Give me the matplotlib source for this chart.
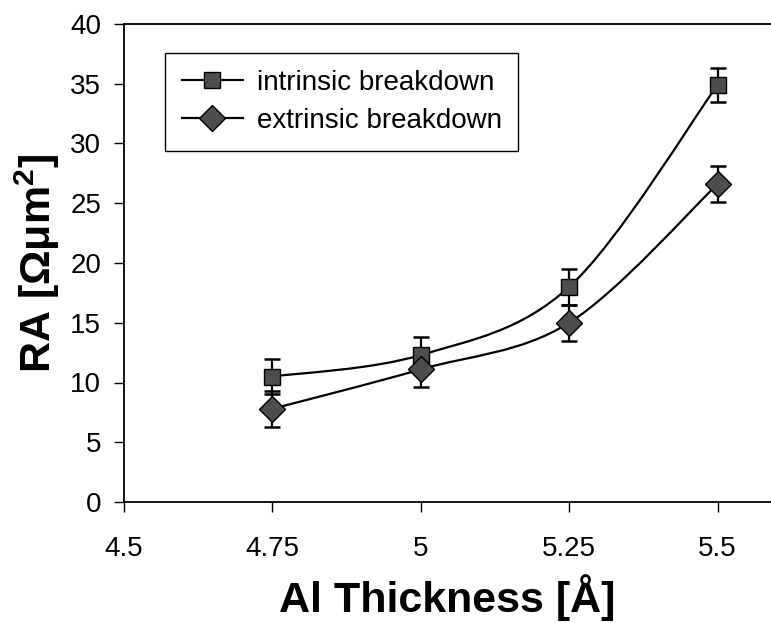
import matplotlib
matplotlib.use("Agg")
import matplotlib.pyplot as plt
from matplotlib.path import Path
from matplotlib.patches import PathPatch
from matplotlib.lines import Line2D

thickness = [4.75, 5.0, 5.25, 5.5]
intrinsic = [10.5, 12.3, 18.0, 34.9]
intrinsic_err = [1.5, 1.5, 1.5, 1.45]
extrinsic = [7.8, 11.1, 15.0, 26.6]
extrinsic_err = [1.5, 1.5, 1.5, 1.5]

plt.rcParams["font.family"] = ["Liberation Sans", "DejaVu Sans"]
plt.rcParams["mathtext.fontset"] = "custom"
plt.rcParams["mathtext.bf"] = "Liberation Sans:bold"
plt.rcParams["mathtext.rm"] = "Liberation Sans"


def smooth_path(xs, ys):
    # Catmull-Rom style bezier, like the spreadsheet "smoothed line"
    pts = list(zip(xs, ys))
    verts = [pts[0]]
    codes = [Path.MOVETO]
    n = len(pts)
    for i in range(n - 1):
        p0 = pts[i - 1] if i > 0 else pts[i]
        p1 = pts[i]
        p2 = pts[i + 1]
        p3 = pts[i + 2] if i + 2 < n else pts[i + 1]
        c1 = (p1[0] + (p2[0] - p0[0]) / 6, p1[1] + (p2[1] - p0[1]) / 6)
        c2 = (p2[0] - (p3[0] - p1[0]) / 6, p2[1] - (p3[1] - p1[1]) / 6)
        verts += [c1, c2, p2]
        codes += [Path.CURVE4] * 3
    return Path(verts, codes)


fig = plt.figure(figsize=(7.71, 6.23), dpi=100)
ax = fig.add_axes([124 / 771, 1 - 502 / 623, 1 - 124 / 771, (502 - 24) / 623])

styles = [("s", 11.5), ("D", 13)]
for (ys, err), (mk, ms) in zip([(intrinsic, intrinsic_err),
                                (extrinsic, extrinsic_err)], styles):
    ax.add_patch(PathPatch(smooth_path(thickness, ys), fill=False,
                           edgecolor="black", lw=1.6, zorder=2))
    ax.errorbar(thickness, ys, yerr=err, fmt="none", ecolor="black",
                elinewidth=1.6, capsize=5.5, capthick=1.8, zorder=3)
    ax.plot(thickness, ys, linestyle="none", marker=mk, markersize=ms,
            markerfacecolor="#4d4d4d", markeredgecolor="black",
            markeredgewidth=1.0, zorder=4)

ax.set_xlim(4.5, 5.59)
ax.set_ylim(0, 40)
ax.set_xticks([4.5, 4.75, 5.0, 5.25, 5.5])
ax.set_xticklabels(["4.5", "4.75", "5", "5.25", "5.5"])
ax.set_yticks(range(0, 41, 5))
ax.tick_params(axis="both", direction="out", length=7.5, width=1,
               labelsize=20)
ax.tick_params(axis="y", pad=9)
ax.tick_params(axis="x", pad=17)

for s in ax.spines.values():
    s.set_linewidth(1.3)
ax.spines["right"].set_visible(False)

ax.set_xlabel("Al Thickness [Å]", fontsize=31, fontweight="bold", labelpad=9)
ax.set_ylabel(r"RA [Ωμm$^\mathbf{2}$]", fontsize=31, fontweight="bold",
              labelpad=6)

handles = [
    Line2D([], [], color="black", lw=1.6, marker="s", markersize=11.5,
           markerfacecolor="#4d4d4d", markeredgecolor="black"),
    Line2D([], [], color="black", lw=1.6, marker="D", markersize=13,
           markerfacecolor="#4d4d4d", markeredgecolor="black"),
]
leg = ax.legend(handles, ["intrinsic breakdown", "extrinsic breakdown"],
                loc="upper left", bbox_to_anchor=(165 / 771, 1 - 53 / 623),
                bbox_transform=fig.transFigure, fontsize=20, fancybox=False,
                edgecolor="black", framealpha=1, handlelength=2.2,
                borderpad=0.6, labelspacing=0.45, handletextpad=0.5,
                borderaxespad=0)
leg.get_frame().set_linewidth(1.0)

fig.savefig("out.png", dpi=100)
plt.close(fig)
